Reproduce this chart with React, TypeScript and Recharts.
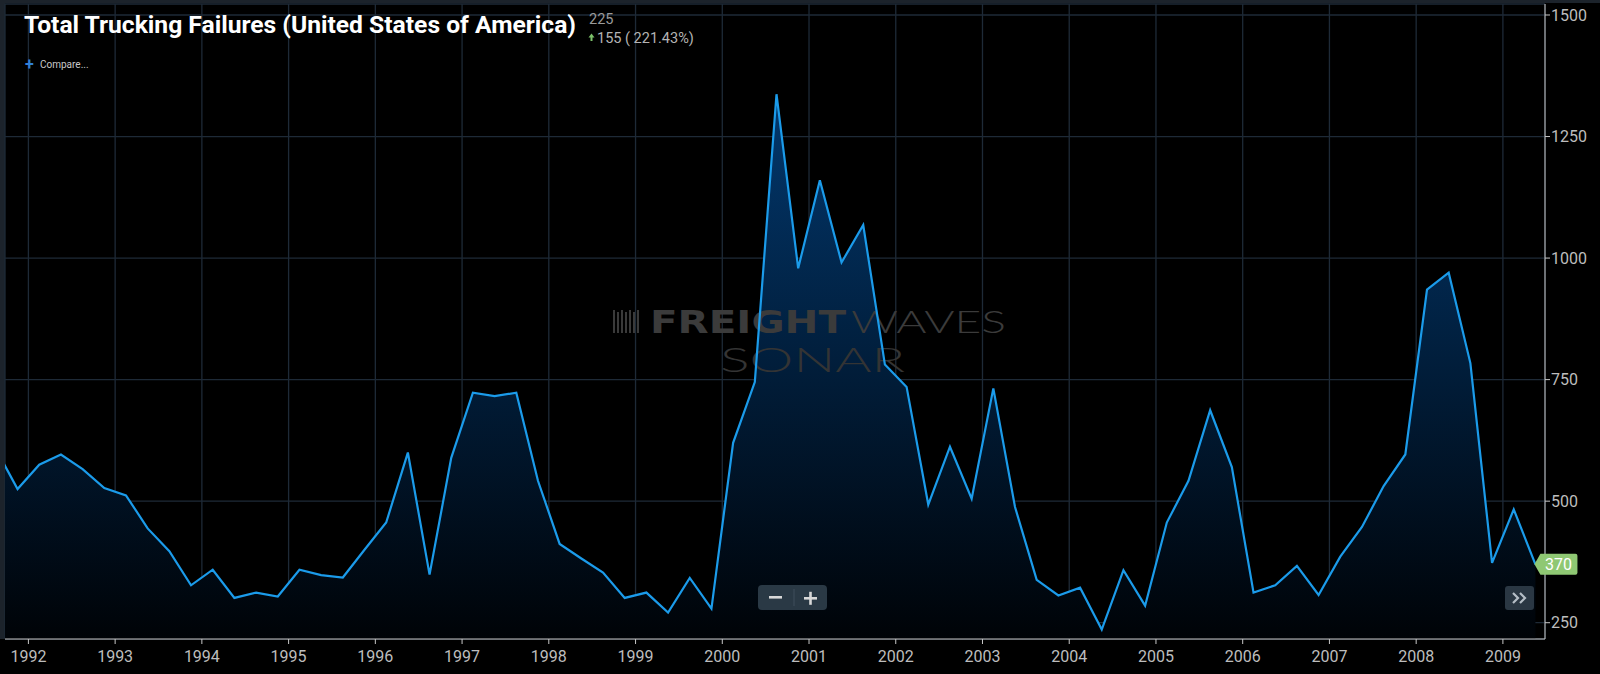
import { AreaChart, Area, XAxis, YAxis, CartesianGrid, ReferenceDot } from 'recharts';

// quarterly totals, plotted at mid-quarter
const quarters = [
  '1991-Q3', '1991-Q4',
  '1992-Q1', '1992-Q2', '1992-Q3', '1992-Q4',
  '1993-Q1', '1993-Q2', '1993-Q3', '1993-Q4',
  '1994-Q1', '1994-Q2', '1994-Q3', '1994-Q4',
  '1995-Q1', '1995-Q2', '1995-Q3', '1995-Q4',
  '1996-Q1', '1996-Q2', '1996-Q3', '1996-Q4',
  '1997-Q1', '1997-Q2', '1997-Q3', '1997-Q4',
  '1998-Q1', '1998-Q2', '1998-Q3', '1998-Q4',
  '1999-Q1', '1999-Q2', '1999-Q3', '1999-Q4',
  '2000-Q1', '2000-Q2', '2000-Q3', '2000-Q4',
  '2001-Q1', '2001-Q2', '2001-Q3', '2001-Q4',
  '2002-Q1', '2002-Q2', '2002-Q3', '2002-Q4',
  '2003-Q1', '2003-Q2', '2003-Q3', '2003-Q4',
  '2004-Q1', '2004-Q2', '2004-Q3', '2004-Q4',
  '2005-Q1', '2005-Q2', '2005-Q3', '2005-Q4',
  '2006-Q1', '2006-Q2', '2006-Q3', '2006-Q4',
  '2007-Q1', '2007-Q2', '2007-Q3', '2007-Q4',
  '2008-Q1', '2008-Q2', '2008-Q3', '2008-Q4',
  '2009-Q1', '2009-Q2',
];

const failures = [
  607, 525,
  575, 596, 566, 527,
  512, 444, 397, 327,
  359, 301, 312, 304,
  359, 348, 343, 400,
  456, 600, 349, 589,
  723, 716, 723, 542,
  412, 382, 353, 301,
  312, 271, 342, 279,
  620, 745, 1337, 979,
  1160, 991, 1068, 781,
  735, 493, 612, 505,
  732, 488, 338, 306,
  322, 236, 358, 285,
  456, 542, 687, 570,
  312, 327, 367, 307,
  386, 447, 531, 596,
  935, 970, 784, 373,
  483, 370,
];

const yearTicks = [1992, 1993, 1994, 1995, 1996, 1997, 1998, 1999, 2000, 2001, 2002, 2003, 2004, 2005, 2006, 2007, 2008, 2009];
const valueTicks = [250, 500, 750, 1000, 1250, 1500];

const xDomain = [1991.7302, 2009.4854];
const yDomain = [216.5, 1522.6];

const data = quarters.map((q, i) => {
  const [yr, qq] = q.split('-Q');
  return { t: Number(yr) + 0.125 + 0.25 * (Number(qq) - 1), value: failures[i] };
});
const last = data[data.length - 1];

const LastTag = (props: any) => {
  const { cx, cy } = props;
  return (
    <g>
      <path
        d={`M${cx - 1},${cy} L${cx + 5},${cy - 10.5} L${cx + 40},${cy - 10.5} Q${cx + 42},${cy - 10.5} ${cx + 42},${cy - 8.5} L${cx + 42},${cy + 8.5} Q${cx + 42},${cy + 10.5} ${cx + 40},${cy + 10.5} L${cx + 5},${cy + 10.5} Z`}
        fill="#8fc873"
      />
      <text x={cx + 23} y={cy + 5.5} textAnchor="middle" fill="#ffffff" fontSize={16} fontFamily="Roboto">
        {last.value}
      </text>
    </g>
  );
};

const chartProps = {
  width: 1600,
  height: 674,
  data,
  margin: { top: 4, right: 0, bottom: 0, left: 5 },
};

export default function App() {
  return (
    <div style={{ position: 'absolute', left: 0, top: 0, width: 1600, height: 674, background: '#000', overflow: 'hidden', fontFamily: 'Roboto' }}>
      <div style={{ position: 'absolute', left: 0, top: 0, width: 1600, height: 3, background: '#1c232b' }} />
      <div style={{ position: 'absolute', left: 0, top: 0, width: 5, height: 639, background: '#1c232b' }} />

      {/* bottom layer: grid, axes and area fill */}
      <div style={{ position: 'absolute', left: 0, top: 0 }}>
        <AreaChart {...chartProps}>
          <defs>
            <linearGradient id="fillGrad" x1="0" y1="0" x2="0" y2="1">
              <stop offset="0%" stopColor="#02386e" stopOpacity={1} />
              <stop offset="100%" stopColor="#000307" stopOpacity={1} />
            </linearGradient>
          </defs>
          <CartesianGrid stroke="#1e2a37" strokeWidth={1.3} />
          <XAxis
            dataKey="t"
            type="number"
            domain={xDomain}
            allowDataOverflow
            ticks={yearTicks}
            tickFormatter={(v: number) => String(v)}
            height={35}
            stroke="#c8c8c8"
            tickSize={5}
            tickMargin={7}
            tick={{ fill: '#bdbdbd', fontSize: 16, fontFamily: 'Roboto' }}
          />
          <YAxis
            orientation="right"
            type="number"
            domain={yDomain}
            allowDataOverflow
            ticks={valueTicks}
            width={55}
            stroke="#c8c8c8"
            tickSize={5}
            tickMargin={1}
            tick={{ fill: '#bdbdbd', fontSize: 16, fontFamily: 'Roboto' }}
          />
          <Area
            type="linear"
            dataKey="value"
            stroke="none"
            fill="url(#fillGrad)"
            fillOpacity={1}
            dot={false}
            activeDot={false}
            isAnimationActive={false}
          />
        </AreaChart>
      </div>

      {/* watermark between fill and line */}
      <svg width={1600} height={674} style={{ position: 'absolute', left: 0, top: 0 }}>
        {[0, 1, 2, 3, 4, 5, 6].map((i) => (
          <rect key={i} x={613 + i * 4} y={i % 2 ? 312 : 310} width={2} height={i % 2 ? 21 : 23} fill="#3a3a3a" />
        ))}
        <text x={650} y={333} fontFamily="DejaVu Sans" fontWeight="bold" fontSize={32} fill="#3b3b3b" textLength={196} lengthAdjust="spacingAndGlyphs">FREIGHT</text>
        <text x={851} y={333} fontFamily="Lato" fontWeight={300} fontSize={32} fill="#3b3b3b" textLength={155} lengthAdjust="spacingAndGlyphs">WAVES</text>
        <text x={720} y={372} fontFamily="Lato" fontWeight={300} fontSize={34} fill="#343434" textLength={185} lengthAdjust="spacingAndGlyphs">SONAR</text>
      </svg>

      {/* top layer: the line and the last-value tag, same scales */}
      <div style={{ position: 'absolute', left: 0, top: 0 }}>
        <AreaChart {...chartProps}>
          <XAxis dataKey="t" type="number" domain={xDomain} allowDataOverflow ticks={yearTicks} height={35} axisLine={false} tickLine={false} tick={false} />
          <YAxis orientation="right" type="number" domain={yDomain} allowDataOverflow ticks={valueTicks} width={55} axisLine={false} tickLine={false} tick={false} />
          <Area
            type="linear"
            dataKey="value"
            stroke="#1b9bea"
            strokeWidth={2.2}
            fill="none"
            dot={false}
            activeDot={false}
            isAnimationActive={false}
          />
          <ReferenceDot x={last.t} y={last.value} r={0} ifOverflow="visible" shape={LastTag} />
        </AreaChart>
      </div>

      {/* header and controls */}
      <svg width={1600} height={674} style={{ position: 'absolute', left: 0, top: 0, pointerEvents: 'none' }}>
        <text x={24} y={33} fontFamily="Roboto" fontWeight="bold" fontSize={24} fill="#ffffff" textLength={552} lengthAdjust="spacingAndGlyphs">
          Total Trucking Failures (United States of America)
        </text>
        <text x={589} y={24} fontFamily="Roboto" fontSize={14.5} fill="#9a9a9a">225</text>
        <path d="M591.5,33.5 L588.5,37.5 L590.5,37.5 L590.5,41 L592.5,41 L592.5,37.5 L594.5,37.5 Z" fill="#7cc26a" />
        <text x={597} y={42.5} fontFamily="Roboto" fontSize={14.5} fill="#b4b4b4">155 ( 221.43%)</text>
        <text x={25} y={70} fontFamily="Roboto" fontWeight="bold" fontSize={16} fill="#2f80d8">+</text>
        <text x={40} y={68} fontFamily="Roboto" fontSize={10} fill="#c8c8c8">Compare...</text>

        <rect x={758} y={585} width={69} height={25} rx={4} fill="#2a3945" />
        <line x1={794} y1={589} x2={794} y2={606} stroke="#3e4e5c" strokeWidth={1} />
        <rect x={769} y={596} width={13} height={2.6} fill="#d8d8d8" />
        <rect x={804} y={597} width={13} height={2.6} fill="#d8d8d8" />
        <rect x={809.2} y={591.8} width={2.6} height={13} fill="#d8d8d8" />

        <rect x={1505} y={586} width={29} height={24} rx={3} fill="#2a3743" />
        <polyline points="1513,593 1518,598 1513,603" fill="none" stroke="#b5bec6" strokeWidth={2.2} />
        <polyline points="1520,593 1525,598 1520,603" fill="none" stroke="#b5bec6" strokeWidth={2.2} />
      </svg>
    </div>
  );
}
